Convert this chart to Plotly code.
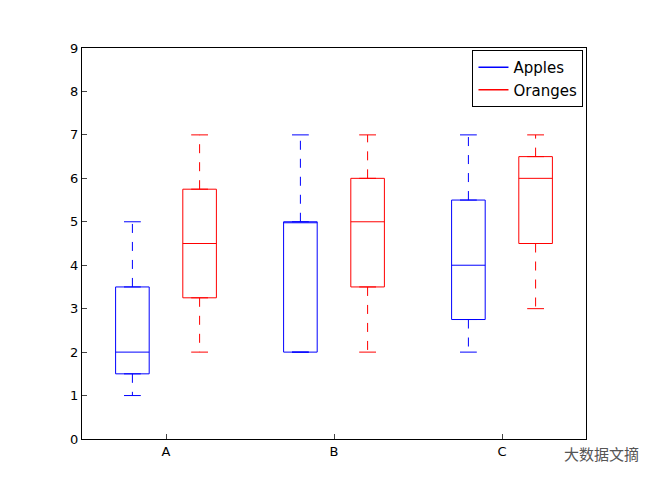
import numpy as np
import plotly.graph_objects as go

# ---- data
groups = ["A", "B", "C"]
apples = [[1, 2, 5], [5, 7, 2, 2, 5], [7, 2, 5, 3]]
oranges = [[2, 7], [7, 2, 5], [6, 7, 3]]
series = [("Apples", apples, "#0000ff", -0.4), ("Oranges", oranges, "#ff0000", 0.4)]

fig = go.Figure()
for name, data, color, off in series:
    for i, vals in enumerate(data):
        x = i * 2.0 + off
        q1, med, q3 = np.percentile(vals, [25, 50, 75])
        lo, hi = min(vals), max(vals)
        fig.add_trace(go.Box(
            x=[x], q1=[q1], median=[med], q3=[q3], lowerfence=[q1], upperfence=[q3],
            width=0.4, line=dict(color=color, width=1), fillcolor="rgba(0,0,0,0)",
            showlegend=False, hoverinfo="skip",
        ))
        # dashed whiskers
        fig.add_trace(go.Scatter(
            x=[x, x, None, x, x], y=[q3, hi, None, q1, lo], mode="lines",
            line=dict(color=color, width=1, dash="dash"), showlegend=False,
        ))
        # caps
        fig.add_trace(go.Scatter(
            x=[x - 0.1, x + 0.1, None, x - 0.1, x + 0.1], y=[hi, hi, None, lo, lo], mode="lines",
            line=dict(color=color, width=1), showlegend=False,
        ))
    fig.add_trace(go.Scatter(x=[None], y=[None], mode="lines", name=name,
                             line=dict(color=color, width=1.5)))

fig.update_layout(
    width=650, height=488, plot_bgcolor="white", paper_bgcolor="white",
    margin=dict(l=74, r=72, t=40, b=57),
    font=dict(family="DejaVu Sans", size=13, color="black"),
    legend=dict(x=0.995, y=0.995, xanchor="right", yanchor="top",
                bordercolor="black", borderwidth=1, font=dict(size=15)),
)
fig.update_xaxes(range=[-1, 5], tickvals=[0, 2, 4], ticktext=groups,
                 showline=True, mirror=True, linecolor="black", ticks="inside",
                 showgrid=False, zeroline=False)
fig.update_yaxes(range=[0, 9], dtick=1, showline=True, mirror=True, linecolor="black",
                 ticks="inside", showgrid=False, zeroline=False)
fig.add_annotation(text="大数据文摘", xref="paper", yref="paper", x=1.11, y=-0.07,
                   showarrow=False, font=dict(family="Noto Sans CJK SC", size=15, color="#555"))

fig.write_html("out.html")
